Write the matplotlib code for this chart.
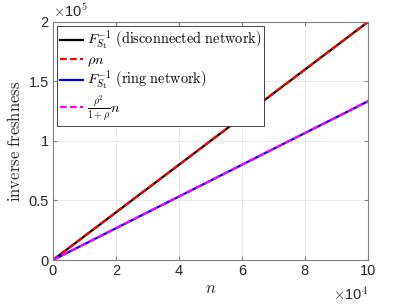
import matplotlib
matplotlib.use("Agg")
import matplotlib.pyplot as plt
from matplotlib.ticker import FuncFormatter

plt.rcParams['mathtext.fontset'] = 'cm'
plt.rcParams['font.family'] = ['Liberation Sans', 'DejaVu Sans']

n_vals = [0, 20000, 40000, 60000, 80000, 100000]
disconnected = [0, 40000, 80000, 120000, 160000, 200000]
rho_n = [0, 40000, 80000, 120000, 160000, 200000]
ring = [0, 26667, 53333, 80000, 106667, 133333]
rho_frac_n = [0, 26667, 53333, 80000, 106667, 133333]

labels = [r'$F_{S_1}^{-1}\ \mathrm{(disconnected\ network)}$',
          r'$\rho n$',
          r'$F_{S_1}^{-1}\ \mathrm{(ring\ network)}$',
          r'$\frac{\rho^2}{1+\rho}n$']

fig = plt.figure(figsize=(4.07, 3.05), dpi=100)
ax = fig.add_axes([0.130, 0.1475, 0.774, 0.7805])

ax.plot(n_vals, disconnected, color='black', lw=1.6, label=labels[0])
ax.plot(n_vals, rho_n, color='red', lw=1.6, ls=(0, (3, 1.5)), label=labels[1])
ax.plot(n_vals, ring, color='blue', lw=1.6, label=labels[2])
ax.plot(n_vals, rho_frac_n, color='magenta', lw=1.6, ls=(0, (3, 1.5)), label=labels[3])

ax.set_xlim(0, 100000)
ax.set_ylim(0, 200000)
ax.set_xticks([0, 20000, 40000, 60000, 80000, 100000])
ax.set_yticks([0, 50000, 100000, 150000, 200000])
ax.xaxis.set_major_formatter(FuncFormatter(lambda v, p: f'{v/1e4:g}'))
ax.yaxis.set_major_formatter(FuncFormatter(lambda v, p: f'{v/1e5:g}'))
ax.grid(True, color='#e6e6e6', lw=0.6)
ax.set_axisbelow(True)
for s in ax.spines.values():
    s.set_color('#808080')
    s.set_linewidth(0.8)
ax.tick_params(direction='in', length=3, color='#808080', labelsize=10.5,
               labelcolor='#262626', top=True, right=True, pad=3)

ax.set_xlabel(r'$n$', fontsize=12, color='#262626', labelpad=2)
ax.set_ylabel(r'$\mathrm{inverse\ freshness}$', fontsize=12, color='#262626', labelpad=4)

ax.text(0.0, 1.01, r'$\times$10$^5$', transform=ax.transAxes, fontsize=10.5,
        color='#262626', ha='left', va='bottom')
ax.text(1.0, -0.165, r'$\times$10$^4$', transform=ax.transAxes, fontsize=10.5,
        color='#262626', ha='right', va='baseline')

leg = ax.legend(loc='upper left', fontsize=10.3, handlelength=1.6, handletextpad=0.3,
                borderpad=0.2, labelspacing=0.05, borderaxespad=0.3,
                fancybox=False, framealpha=1, edgecolor='#262626')
leg.get_frame().set_linewidth(0.6)

fig.savefig('out.png', dpi=100)
